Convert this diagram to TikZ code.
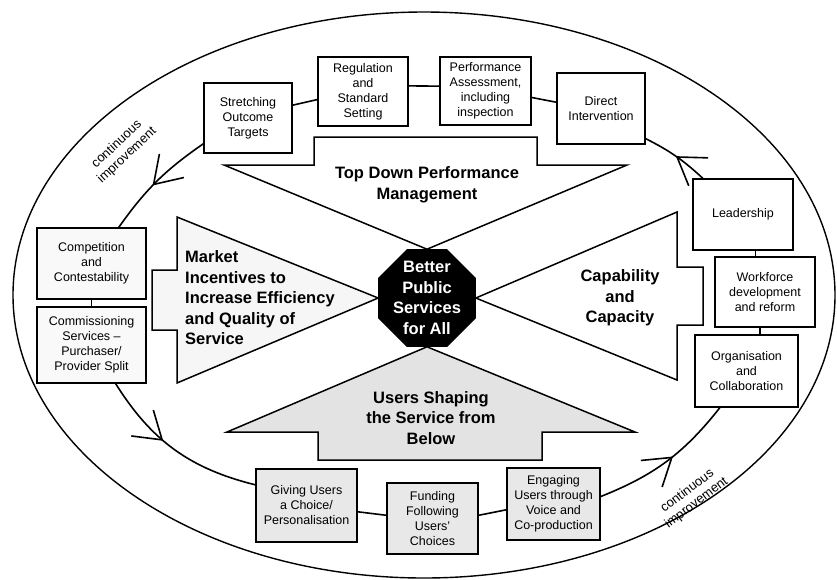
\documentclass[tikz,border=0pt]{standalone}
\usepackage{fontspec}
\setmainfont{Liberation Sans}
\usetikzlibrary{arrows.meta,decorations.markings,shapes.geometric,backgrounds}

\begin{document}
\begin{tikzpicture}[
x=1pt, y=-1pt,
font=\fontsize{12.5}{15}\selectfont,
box/.style={draw, line width=1.5pt, align=center, inner sep=2pt},
shaded/.style={box, fill=gray!18},
bigtext/.style={font=\bfseries\fontsize{16.5}{20.5}\selectfont, align=center, inner sep=0pt},
bigarrow/.style={draw, line width=1.5pt, line join=miter},
link/.style={line width=1.6pt},
ring/.style={link, postaction={decorate},
  decoration={markings, mark=at position #1 with {\arrow{Straight Barb[length=26pt,width=34pt]}}}},
note/.style={font=\fontsize{13}{15}\selectfont, align=center, inner sep=0pt}
]
    \useasboundingbox (0,0) rectangle (837,579);

    % outer ellipse
    \draw[line width=1.4pt] (424,295) ellipse [x radius=411, y radius=283];

    % centre
    \node[draw, line width=1.5pt, fill=black, regular polygon, regular polygon sides=8,
      minimum size=104, inner sep=0pt] (ctr) at (427,298) {};
    \node[bigtext, text=white] (ctrtext) at (ctr) {Better\\Public\\Services\\for All};

    % the four big arrows
    \begin{scope}[on background layer]
    \draw[bigarrow, fill=white] (314,137) -- (537,137) -- (537,165) -- (627,165)
        -- (ctr.north) -- (224,165) -- (314,165) -- cycle;
    \draw[bigarrow, fill=gray!7] (152,270) -- (177,270) -- (177,217) -- (ctr.west)
        -- (177,383) -- (177,330) -- (152,330) -- cycle;
    \draw[bigarrow, fill=white] (703,267) -- (677,267) -- (677,212) -- (ctr.east)
        -- (677,380) -- (677,325) -- (703,325) -- cycle;
    \draw[bigarrow, fill=gray!22] (ctr.south) -- (635,432) -- (542,432) -- (542,460)
        -- (318,460) -- (318,432) -- (227,432) -- cycle;
    \end{scope}

    \node[bigtext] (tdlabel) at (427,185) {Top Down Performance\\Management};
    \node[bigtext, align=left, anchor=west] (mklabel) at (185,298) {Market\\Incentives to\\Increase Efficiency\\and Quality of\\Service};
    \node[bigtext] (cclabel) at (620,298) {Capability\\and\\Capacity};
    \node[bigtext] (uslabel) at (431,418) {Users Shaping\\the Service from\\Below};

    % top row
    \node[box, minimum width=88, minimum height=70] (str) at (248,118) {Stretching\\Outcome\\Targets};
    \node[box, minimum width=90, minimum height=69] (reg) at (363,91.5) {Regulation\\and\\Standard\\Setting};
    \node[box, minimum width=91, minimum height=68] (perf) at (485.5,91) {Performance\\Assessment,\\including\\inspection};
    \node[box, minimum width=88, minimum height=71] (dir) at (601,108.5) {Direct\\Intervention};

    % left column
    \node[box, fill=gray!5, minimum width=109, minimum height=71] (comp) at (91.5,263.5) {Competition\\and\\Contestability};
    \node[box, fill=gray!5, minimum width=109, minimum height=76] (comm) at (91.5,345) {Commissioning\\Services --\\Purchaser/\\Provider Split};

    % right column
    \node[box, minimum width=100, minimum height=71] (lead) at (743,214.5) {Leadership};
    \node[box, minimum width=100, minimum height=70] (work) at (765,292) {Workforce\\development\\and reform};
    \node[box, minimum width=103, minimum height=72] (org) at (746.5,371) {Organisation\\and\\Collaboration};

    % bottom row
    \node[shaded, minimum width=101, minimum height=73] (giv) at (306.5,505.5) {Giving Users\\a Choice/\\Personalisation};
    \node[shaded, minimum width=91, minimum height=71] (fund) at (432.5,518.5) {Funding\\Following\\Users'\\Choices};
    \node[shaded, minimum width=93, minimum height=72] (eng) at (553.5,504) {Engaging\\Users through\\Voice and\\Co-production};

    % the cycle
    \draw[link] (str.16) -- (reg.190);
    \draw[link] (reg.7) -- (perf.174);
    \draw[link] (perf.352) -- (dir.172);
    \draw[ring=0.5] (lead.138) to[bend right=8] (dir.326);
    \draw[link] (lead.289) -- (lead.289 |- work.north);
    \draw[link] (work.262) -- (work.262 |- org.north);
    \draw[ring=0.55] (eng.9) to[bend right=15] (org.234);
    \draw[link] (fund.4) -- (eng.187);
    \draw[link] (giv.353) -- (fund.176);
    \draw[ring=0.42] (comm.302) to[bend right=22] (giv.158);
    \draw[link] (comp.south) -- (comm.north);
    \draw[ring=0.55] (str.210) to[bend right=10] (comp.53);

    \node[note, rotate=43] (ci1) at (122,150) {continuous\\improvement};
    \node[note, rotate=37] (ci2) at (692,497) {continuous\\improvement};
\end{tikzpicture}
\end{document}
